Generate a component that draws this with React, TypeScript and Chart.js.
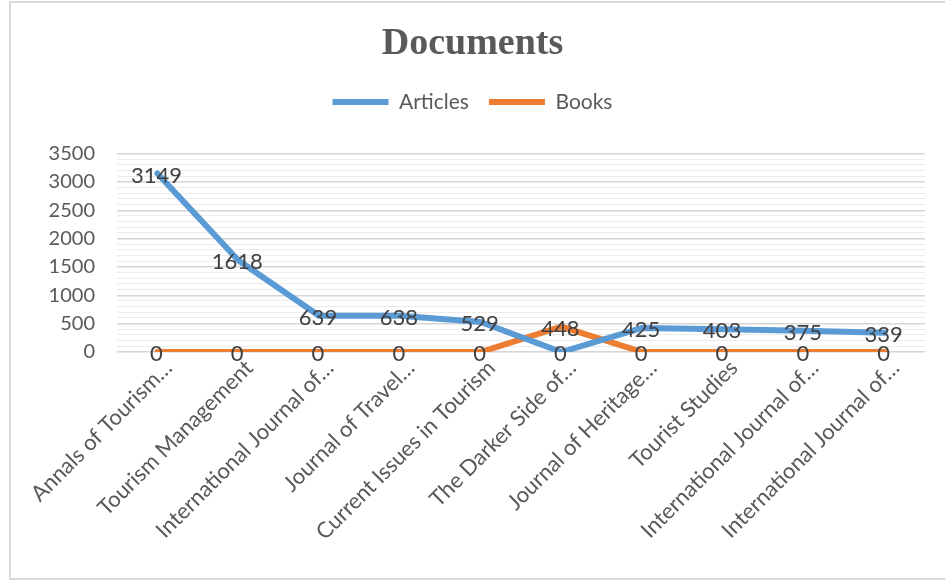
import { useEffect, useRef } from "react";
import { Chart, registerables } from "chart.js";

Chart.register(...registerables);

const categories = [
  "Annals of Tourism…",
  "Tourism Management",
  "International Journal of…",
  "Journal of Travel…",
  "Current Issues in Tourism",
  "The Darker Side of…",
  "Journal of Heritage…",
  "Tourist Studies",
  "International Journal of…",
  "International Journal of…",
];
const articles = [3149, 1618, 639, 638, 529, 0, 425, 403, 375, 339];
const books = [0, 0, 0, 0, 0, 448, 0, 0, 0, 0];
const yMax = 3500;
const yMajorStep = 500;
const yMinorStep = 100;

const FONT = "Lato, 'Open Sans', sans-serif";

const framePlugin = {
  id: "frame",
  beforeDraw(chart: any) {
    const { ctx, width, height } = chart;
    ctx.save();
    ctx.fillStyle = "#ffffff";
    ctx.fillRect(0, 0, width, height);
    ctx.strokeStyle = "#d9d9d9";
    ctx.lineWidth = 2;
    ctx.strokeRect(10, 2, width, height - 6);
    ctx.restore();
  },
};

const legendSpacer = {
  id: "legendSpacer",
  beforeLayout(chart: any) {
    const lg = chart.legend;
    if (lg && !lg._spaced) {
      const f = lg.fit;
      lg.fit = function (this: any) {
        f.call(this);
        this.height += 31;
      };
      lg._spaced = true;
    }
  },
};

const valueLabels = {
  id: "valueLabels",
  afterDatasetsDraw(chart: any) {
    const ctx = chart.ctx;
    ctx.save();
    ctx.font = `22px ${FONT}`;
    ctx.fillStyle = "#404040";
    ctx.textAlign = "center";
    ctx.textBaseline = "middle";
    chart.data.datasets.forEach((ds: any, i: number) => {
      const meta = chart.getDatasetMeta(i);
      meta.data.forEach((el: any, j: number) => {
        ctx.fillText(String(ds.data[j]), el.x - 1, el.y + 2);
      });
    });
    ctx.restore();
  },
};

export default function App() {
  const ref = useRef<HTMLCanvasElement>(null);
  useEffect(() => {
    document.body.style.margin = "0";
    const chart = new Chart(ref.current!, {
      type: "line",
      data: {
        labels: categories,
        datasets: [
          {
            label: "Articles",
            data: articles,
            borderColor: "#5B9BD5",
            backgroundColor: "#5B9BD5",
            borderWidth: 6,
            borderCapStyle: "round",
            borderJoinStyle: "round",
            pointRadius: 0,
            tension: 0,
          },
          {
            label: "Books",
            data: books,
            borderColor: "#ED7D31",
            backgroundColor: "#ED7D31",
            borderWidth: 6,
            borderCapStyle: "round",
            borderJoinStyle: "round",
            pointRadius: 0,
            tension: 0,
          },
        ],
      },
      options: {
        responsive: false,
        animation: false,
        devicePixelRatio: 1,
        layout: { padding: { left: 20, right: 20, top: 0, bottom: 0 } },
        plugins: {
          title: {
            display: true,
            text: "Documents",
            color: "#595959",
            font: { family: "'Liberation Serif', serif", size: 38, weight: "bold" },
            padding: { top: 21, bottom: 5 },
          },
          legend: {
            display: true,
            position: "top",
            labels: {
              usePointStyle: true,
              pointStyle: "line",
              pointStyleWidth: 56,
              color: "#595959",
              font: { family: FONT, size: 21 },
              padding: 20,
            },
          },
          tooltip: { enabled: false },
        },
        scales: {
          x: {
            offset: true,
            afterFit: (s: any) => {
              s.height = 231;
            },
            grid: { display: false },
            border: { display: false },
            ticks: {
              autoSkip: false,
              maxRotation: 45,
              minRotation: 45,
              color: "#595959",
              font: { family: FONT, size: 22 },
              padding: -5,
              labelOffset: 11,
            },
          },
          y: {
            min: 0,
            max: yMax,
            afterFit: (s: any) => {
              s.width = 97;
            },
            border: { display: false },
            grid: {
              drawTicks: false,
              color: (c: any) => (c.tick.value % yMajorStep === 0 ? "#d6d6d6" : "#ececec"),
              lineWidth: (c: any) => (c.tick.value % yMajorStep === 0 ? 1.5 : 1),
            },
            ticks: {
              stepSize: yMinorStep,
              maxTicksLimit: 100,
              autoSkip: false,
              padding: 22,
              color: "#595959",
              font: { family: FONT, size: 20 },
              callback: (v: any) => (Number(v) % yMajorStep === 0 ? String(v) : ""),
            },
          },
        },
      },
      plugins: [framePlugin, legendSpacer, valueLabels],
    } as any);
    return () => chart.destroy();
  }, []);
  return (
    <div style={{ width: 945, height: 583 }}>
      <canvas ref={ref} width={945} height={583} />
    </div>
  );
}
